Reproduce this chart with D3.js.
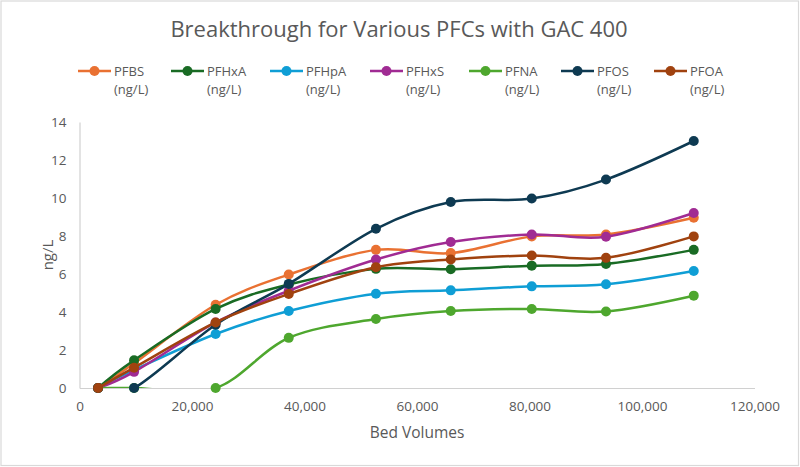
<!DOCTYPE html>
<html>
<head>
<meta charset="utf-8">
<script src="https://cdn.jsdelivr.net/npm/d3@7"></script>
<style>
  html, body { margin: 0; padding: 0; background: #fff; }
  svg { display: block; }
  text { font-family: "Open Sans", "Noto Sans", sans-serif; fill: #595959; }
</style>
</head>
<body>
<svg id="chart" width="800" height="467"></svg>
<script>
const bedVolumes = [3300, 9700, 24200, 37200, 52700, 66000, 80400, 93600, 109200];
const seriesNames = ["PFBS", "PFHxA", "PFHpA", "PFHxS", "PFNA", "PFOS", "PFOA"];
const PFBS  = [0, 1.3, 4.38, 5.97, 7.27, 7.1, 7.98, 8.08, 8.96];
const PFHxA = [0, 1.46, 4.16, 5.45, 6.27, 6.25, 6.44, 6.53, 7.27];
const PFHpA = [0, 0.95, 2.84, 4.05, 4.96, 5.14, 5.35, 5.46, 6.16];
const PFHxS = [0, 0.85, 3.45, 5.12, 6.76, 7.68, 8.08, 7.96, 9.21];
const PFNA  = [0, 0, 0, 2.64, 3.63, 4.05, 4.16, 4.03, 4.86];
const PFOS  = [0, 0, 3.33, 5.48, 8.38, 9.79, 9.97, 10.97, 13.0];
const PFOA  = [0, 1.07, 3.45, 4.95, 6.36, 6.76, 6.97, 6.85, 7.98];
const seriesValues = [PFBS, PFHxA, PFHpA, PFHxS, PFNA, PFOS, PFOA];
const colors = ["#E97132", "#196B24", "#0F9ED5", "#A02B93", "#4EA72E", "#0E3A52", "#A0420F"];
const xTicks = [0, 20000, 40000, 60000, 80000, 100000, 120000];
const yTicks = [0, 2, 4, 6, 8, 10, 12, 14];
const titleText = "Breakthrough for Various PFCs with GAC 400";
const xTitle = "Bed Volumes";
const yTitle = "ng/L";
const unitLabel = "(ng/L)";

const svg = d3.select("#chart");
const W = 800, H = 467;
const m = { left: 79.5, right: 45.5, top: 122, bottom: 79 };

svg.append("rect").attr("x", 1).attr("y", 1).attr("width", W - 2.5).attr("height", H - 2.5)
  .attr("fill", "#fff").attr("stroke", "#d9d9d9").attr("stroke-width", 1.2);

const x = d3.scaleLinear().domain([0, 120000]).range([m.left, W - m.right]);
const y = d3.scaleLinear().domain([0, 14]).range([H - m.bottom, m.top]);

// Title
svg.append("text").attr("x", 399).attr("y", 37).attr("text-anchor", "middle")
  .style("font-size", "22px").text(titleText);

// Axes
const xAxis = d3.axisBottom(x).tickValues(xTicks).tickSize(0).tickPadding(13)
  .tickFormat(d3.format(","));
const gx = svg.append("g").attr("transform", `translate(0,${y(0)})`).call(xAxis);
gx.select(".domain").attr("stroke", "#d0d0d0").attr("stroke-width", 1.2);
gx.selectAll("text").style("font-size", "13.5px").attr("fill", "#595959");

const yAxis = d3.axisLeft(y).tickValues(yTicks).tickSize(0).tickPadding(13);
const gy = svg.append("g").attr("transform", `translate(${x(0)},0)`).call(yAxis);
gy.select(".domain").attr("stroke", "#d0d0d0").attr("stroke-width", 1.2);
gy.selectAll("text").style("font-size", "13.5px").attr("fill", "#595959");

svg.append("text").attr("x", (x(0) + x(120000)) / 2).attr("y", 438).attr("text-anchor", "middle")
  .style("font-size", "15.5px").text(xTitle);
svg.append("text").attr("transform", `translate(53,${(y(0) + y(14)) / 2}) rotate(-90)`)
  .attr("text-anchor", "middle").style("font-size", "15px").text(yTitle);

// Clip
svg.append("clipPath").attr("id", "plotclip").append("rect")
  .attr("x", x(0)).attr("y", y(14) - 10).attr("width", x(120000) - x(0)).attr("height", y(0) - y(14) + 10);

const line = d3.line().x((d, i) => x(bedVolumes[i])).y(d => y(d))
  .curve(d3.curveCardinal.tension(0));

const plot = svg.append("g");
seriesValues.forEach((vals, si) => {
  const g = plot.append("g");
  g.append("path").datum(vals).attr("d", line).attr("fill", "none")
    .attr("stroke", colors[si]).attr("stroke-width", 2.5).attr("clip-path", "url(#plotclip)");
  g.selectAll("circle").data(vals).join("circle")
    .attr("cx", (d, i) => x(bedVolumes[i])).attr("cy", d => y(d)).attr("r", 5)
    .attr("fill", colors[si]);
});

// Legend
const legendX = [78, 171, 270, 370, 469, 561, 654];
const leg = svg.append("g");
seriesNames.forEach((name, i) => {
  const lx = legendX[i];
  const gg = leg.append("g");
  gg.append("line").attr("x1", lx).attr("x2", lx + 33).attr("y1", 71).attr("y2", 71)
    .attr("stroke", colors[i]).attr("stroke-width", 2.5);
  gg.append("circle").attr("cx", lx + 16.5).attr("cy", 71).attr("r", 5).attr("fill", colors[i]);
  gg.append("text").attr("x", lx + 36).attr("y", 75.5).style("font-size", "13px").text(name);
  gg.append("text").attr("x", lx + 36).attr("y", 93.5).style("font-size", "13px").text(unitLabel);
});
</script>
</body>
</html>
